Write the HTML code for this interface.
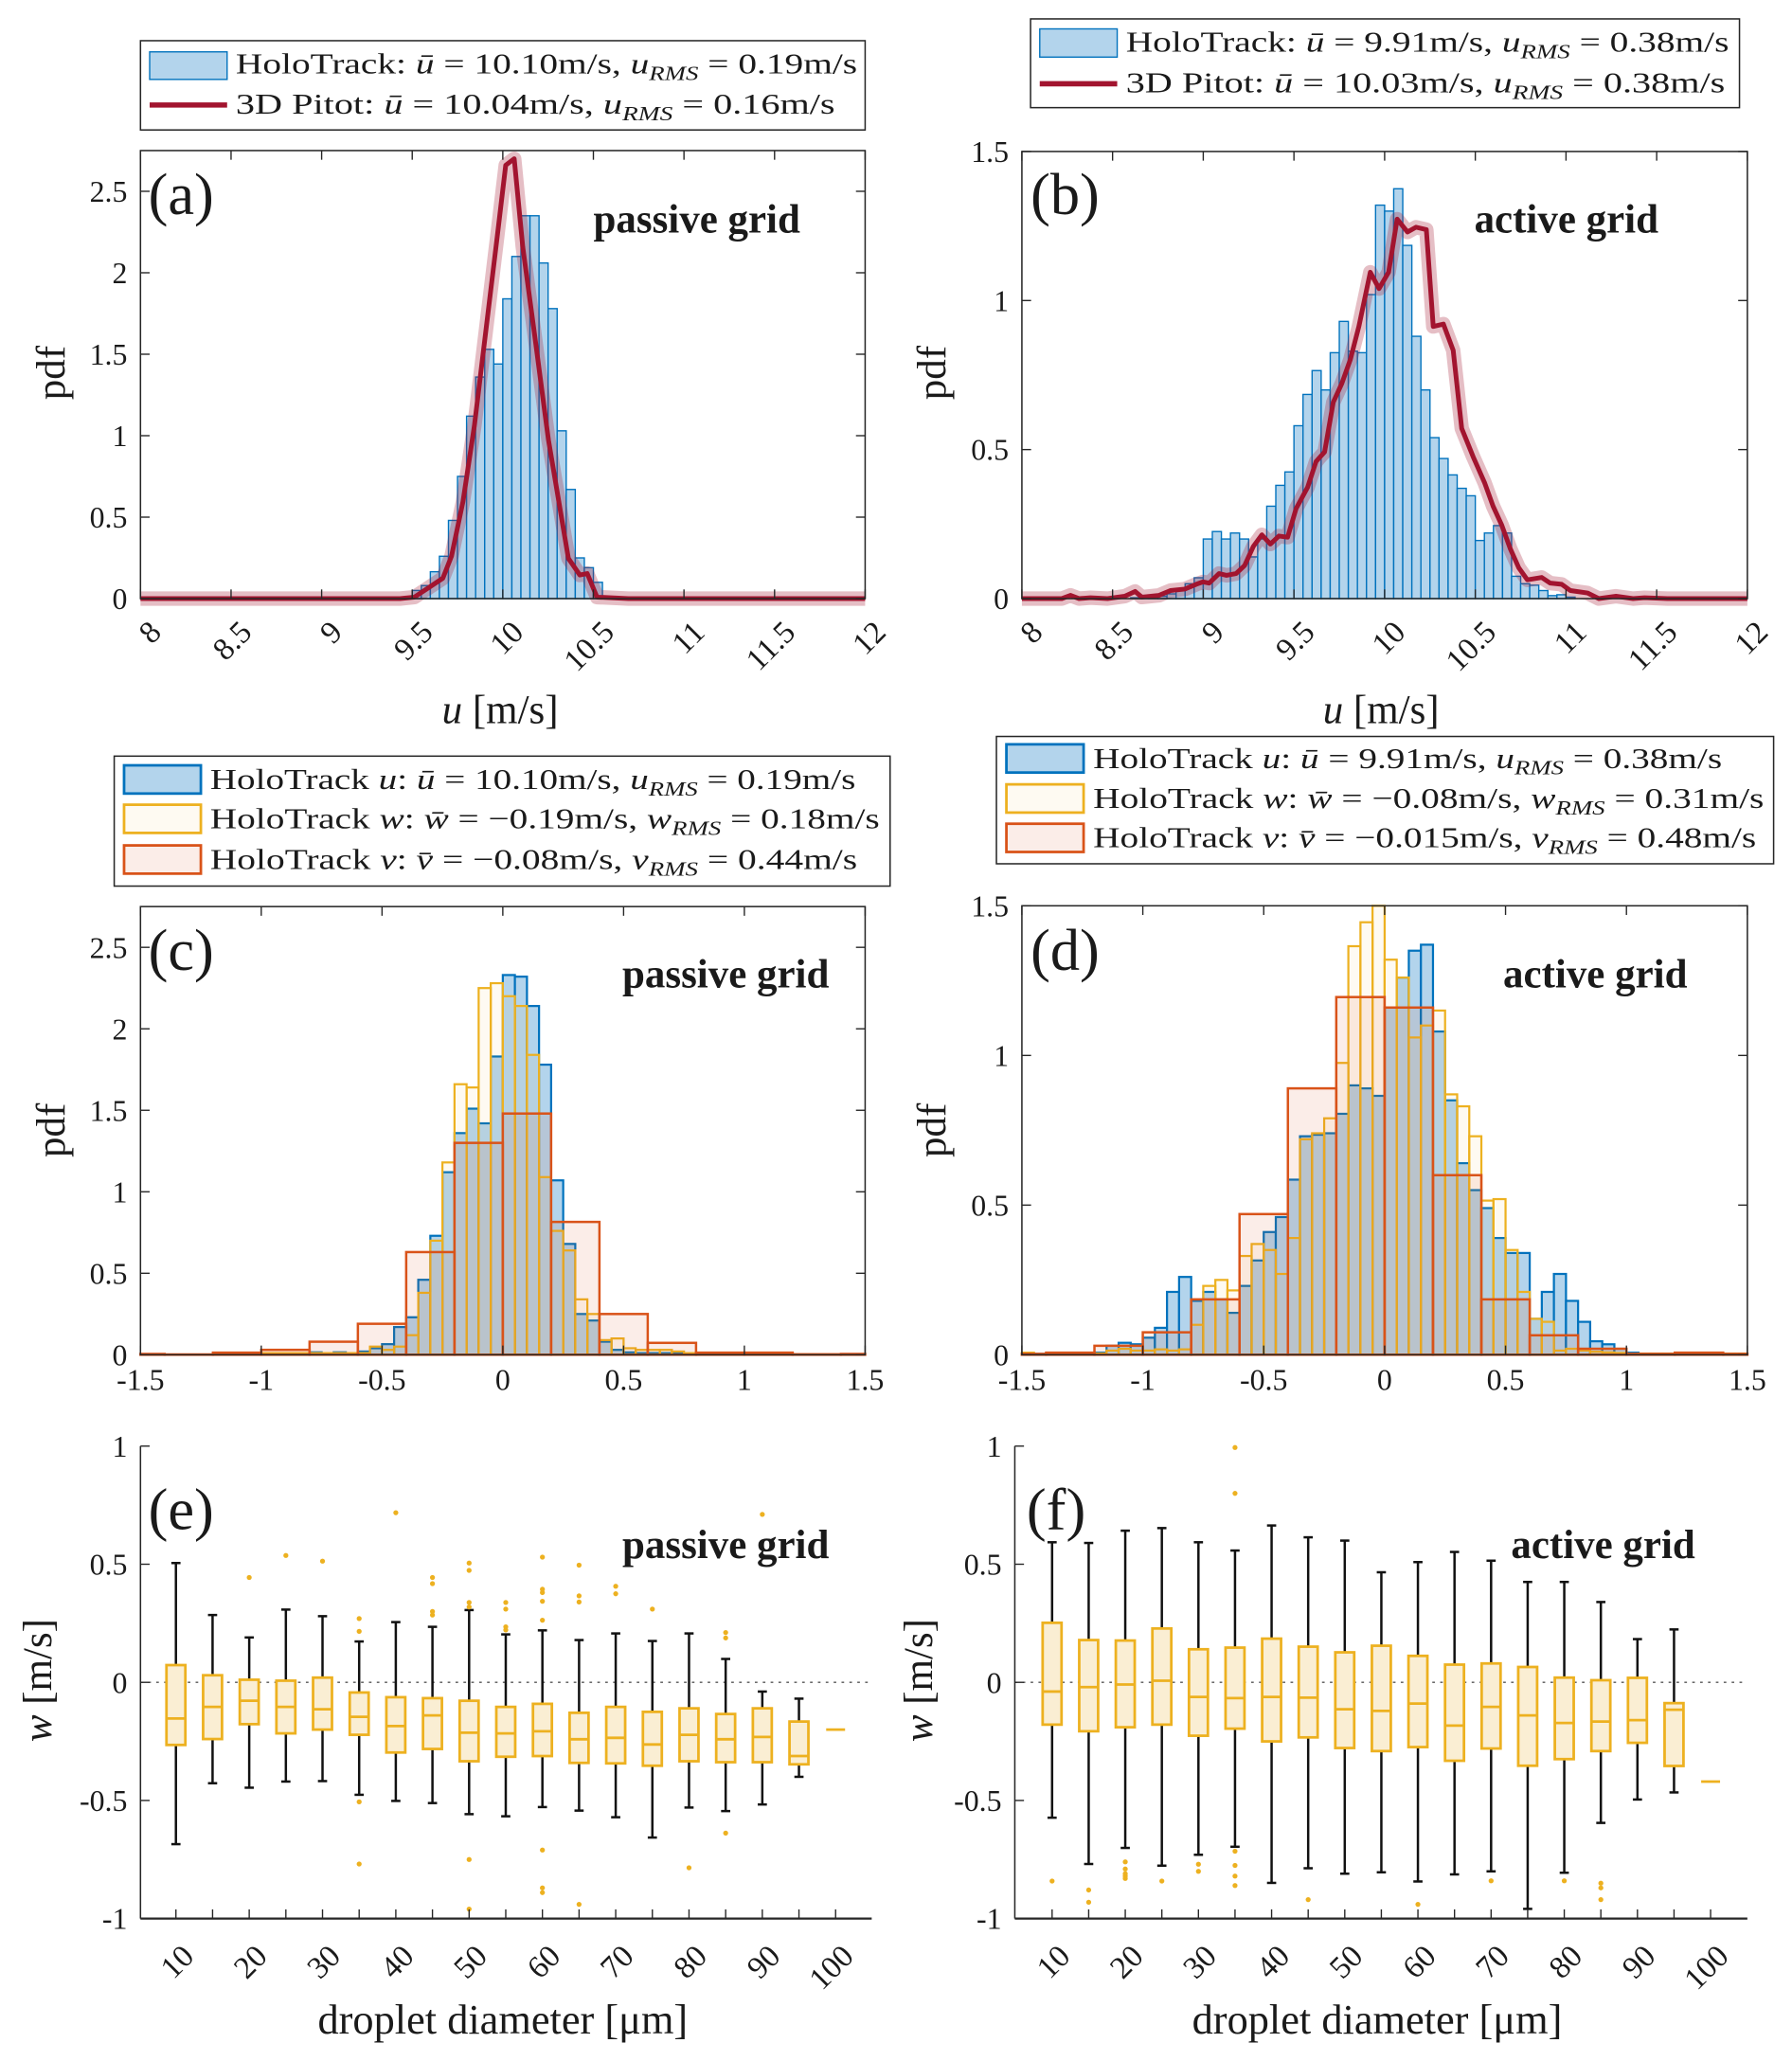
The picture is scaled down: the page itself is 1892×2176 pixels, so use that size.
<!DOCTYPE html>
<html><head><meta charset="utf-8"><title>Velocity pdfs and droplet w boxplots</title>
<style>
html,body{margin:0;padding:0;background:#fff;}
svg{display:block;}
text{font-family:"Liberation Serif",serif;fill:#1a1a1a;}
</style></head>
<body>
<svg id="fig" xmlns="http://www.w3.org/2000/svg" width="1892" height="2176" viewBox="0 0 1365 1570" preserveAspectRatio="none"></svg>
<script>
// ---------- Panel (a) data ----------
const aHoloStart = 9.1;
const aHoloWidth = 0.05;
const aHolo = [0.005,0.005,0.005,0.005,0.005,0.005,0.008,0.01,0.05,0.08,0.165,0.26,0.48,0.75,1.12,1.36,1.53,1.44,1.84,2.1,2.35,2.35,2.06,1.78,1.03,0.67,0.25,0.19,0.1];
const aPitotU = [8,9.276,9.433,9.512,9.669,9.717,9.78,9.843,9.906,9.969,10.016,10.063,10.11,10.173,10.252,10.362,10.425,10.466,10.52,10.693,12];
const aPitotV = [0,0,0,0.009,0.125,0.261,0.595,1.06,1.64,2.22,2.66,2.7,2.16,1.64,0.973,0.247,0.145,0.154,0.009,0,0];
// ---------- Panel (b) data ----------
const bHoloStart = 8.6;
const bHoloWidth = 0.05;
const bHolo = [0.003,0.004,0.005,0.008,0.016,0.027,0.05,0.07,
 0.2,0.225,0.2,0.22,0.2,0.14,0.2,0.31,0.38,0.425,0.58,0.685,0.765,0.7,0.825,0.93,0.83,0.825,1.02,1.32,
 1.3,1.375,1.185,0.88,0.7,0.54,0.47,0.415,0.37,0.345,0.195,0.22,0.245,0.22,0.075,0.05,0.045,0.027,0.01,0.013,0.005];
const bPitotU = [8,8.22,8.268,8.315,8.378,8.472,8.567,8.624,8.661,8.756,8.819,8.898,8.961,8.998,9.033,9.087,9.128,9.181,9.228,9.276,9.323,9.37,9.417,9.465,9.512,9.575,9.622,9.669,9.717,9.764,9.811,9.858,9.921,9.969,10.022,10.069,10.126,10.173,10.23,10.268,10.324,10.378,10.425,10.488,10.551,10.598,10.646,10.693,10.74,10.787,10.866,10.913,10.976,11.024,11.118,11.181,11.276,11.37,11.433,11.559,12];
const bPitotV = [0,0,0.011,0,0.003,0,0.008,0.024,0.005,0.011,0.027,0.032,0.048,0.056,0.052,0.084,0.078,0.084,0.111,0.175,0.214,0.183,0.21,0.206,0.302,0.373,0.46,0.492,0.659,0.722,0.802,0.913,1.095,1.04,1.095,1.273,1.23,1.246,1.238,0.913,0.921,0.833,0.571,0.476,0.389,0.31,0.246,0.167,0.103,0.063,0.071,0.052,0.048,0.027,0.019,0,0.008,0,0.003,0,0];
// ---------- Panel (c) data ----------
const cUStart = -1.0, cWStart = -1.0, cVStart = -1.6;
const cUWidth = 0.05, cWWidth = 0.05, cVWidth = 0.2;
const cU = [0.01,0.01,0.01,0.01,0.015,0.01,0.015,0.01,0.02,0.04,0.065,0.17,0.23,0.46,0.73,1.12,1.36,1.51,1.42,1.83,2.33,2.32,2.14,1.78,1.07,0.68,0.25,0.21,0.08,0.03,0.015,0.01,0.01,0.01,0.01,0.01];
const cW = [0.01,0.01,0.01,0.01,0.01,0.01,0.01,0.01,0.01,0.05,0.03,0.05,0.12,0.38,0.7,1.18,1.66,1.64,2.25,2.28,2.2,2.14,1.84,1.09,0.76,0.64,0.34,0.25,0.09,0.1,0.04,0.03,0.03,0.03,0.02,0.01];
const cV = [0.005,0.002,0.013,0.03,0.08,0.19,0.63,1.3,1.48,0.815,0.25,0.073,0.013,0.013,0.003,0.005];
// ---------- Panel (d) data ----------
const dUStart = -1.5, dWStart = -1.5, dVStart = -1.6;
const dUWidth = 0.05, dWWidth = 0.05, dVWidth = 0.2;
const dU = [0.003,0.003,0.003,0.003,0.003,0.003,0.007,0.03,0.04,0.035,0.057,0.09,0.21,0.26,0.18,0.21,0.185,0.14,0.23,0.315,0.41,0.46,0.585,0.73,0.735,0.74,0.805,0.9,0.89,0.865,1.16,1.26,1.35,1.37,1.08,0.85,0.64,0.55,0.49,0.39,0.34,0.34,0.12,0.21,0.27,0.18,0.11,0.045,0.035,0.02,0.007,0.003,0.003,0.003,0.003,0.003,0.003,0.003,0.003,0.003];
const dW = [0.007,0.002,0.002,0.002,0.002,0.002,0.004,0.014,0.02,0.014,0.014,0.018,0.014,0.018,0.1,0.23,0.25,0.215,0.33,0.37,0.35,0.27,0.39,0.72,0.74,0.79,0.975,1.365,1.445,1.55,1.32,1.26,1.06,1.1,1.15,0.87,0.83,0.73,0.515,0.52,0.35,0.21,0.12,0.11,0.014,0.02,0.014,0.01,0.008,0.006,0.003,0.004,0.004,0.004,0.004,0.004,0.004,0.004,0.004,0.004];
const dV = [0.003,0.007,0.03,0.075,0.185,0.47,0.89,1.195,1.16,0.6,0.185,0.065,0.02,0.003,0.007,0.003];
// ---------- Panel (e) data ----------
const eDiam = [10,15,20,25,30,35,40,45,50,55,60,65,70,75,80,85,90,95];
const eHi  = [0.505,0.285,0.19,0.308,0.28,0.173,0.255,0.235,0.306,0.203,0.22,0.179,0.207,0.175,0.207,0.099,-0.039,-0.069];
const eQ3  = [0.073,0.03,0.011,0.007,0.02,-0.043,-0.063,-0.067,-0.078,-0.104,-0.091,-0.129,-0.104,-0.125,-0.11,-0.134,-0.11,-0.166];
const eMed = [-0.153,-0.104,-0.078,-0.104,-0.114,-0.146,-0.185,-0.14,-0.213,-0.216,-0.207,-0.241,-0.235,-0.263,-0.222,-0.241,-0.231,-0.312];
const eQ1  = [-0.265,-0.24,-0.177,-0.216,-0.2,-0.222,-0.297,-0.282,-0.334,-0.315,-0.312,-0.341,-0.343,-0.353,-0.334,-0.338,-0.338,-0.347];
const eLo  = [-0.685,-0.427,-0.446,-0.42,-0.418,-0.476,-0.502,-0.511,-0.558,-0.567,-0.528,-0.543,-0.571,-0.657,-0.53,-0.545,-0.517,-0.4];
const eOutD = [20,25,30,35,35,35,35,40,45,45,45,45,50,50,50,50,50,50,55,55,55,55,60,60,60,60,60,60,60,60,65,65,65,65,70,70,75,80,85,85,85,90];
const eOutW = [0.444,0.537,0.513,0.27,0.216,-0.506,-0.769,0.718,0.444,0.418,0.3,0.285,0.505,0.474,0.338,0.319,-0.75,-0.96,0.338,0.31,0.235,0.222,0.53,0.394,0.38,0.343,0.263,-0.71,-0.87,-0.89,0.496,0.366,0.34,-0.94,0.407,0.375,0.31,-0.785,0.211,0.188,-0.638,0.711];
const eSingleD = [100];
const eSingleW = [-0.2];
// ---------- Panel (f) data ----------
const fDiam = [10,15,20,25,30,35,40,45,50,55,60,65,70,75,80,85,90,95];
const fHi  = [0.593,0.59,0.642,0.653,0.593,0.558,0.664,0.614,0.6,0.466,0.509,0.552,0.515,0.425,0.425,0.34,0.183,0.224];
const fQ3  = [0.252,0.179,0.177,0.228,0.14,0.147,0.185,0.151,0.127,0.155,0.112,0.075,0.08,0.065,0.02,0.009,0.019,-0.088];
const fMed = [-0.039,-0.02,-0.009,0.007,-0.062,-0.067,-0.062,-0.065,-0.114,-0.121,-0.09,-0.183,-0.104,-0.14,-0.172,-0.166,-0.16,-0.116];
const fQ1  = [-0.179,-0.207,-0.19,-0.179,-0.226,-0.196,-0.25,-0.233,-0.278,-0.291,-0.274,-0.332,-0.28,-0.353,-0.325,-0.291,-0.256,-0.354];
const fLo  = [-0.573,-0.769,-0.701,-0.776,-0.73,-0.696,-0.849,-0.787,-0.81,-0.804,-0.843,-0.813,-0.8,-0.959,-0.806,-0.595,-0.496,-0.466];
const fOutD = [10,15,15,20,20,20,20,20,25,30,30,35,35,35,35,35,35,45,60,70,80,85,85,85];
const fOutW = [-0.841,-0.879,-0.931,-0.76,-0.79,-0.81,-0.82,-0.83,-0.841,-0.77,-0.8,0.994,0.8,-0.715,-0.775,-0.82,-0.86,-0.92,-0.94,-0.84,-0.84,-0.85,-0.87,-0.92];
const fSingleD = [100];
const fSingleW = [-0.42];
// ---------- Tick arrays ----------
const uTicks = [8,8.5,9,9.5,10,10.5,11,11.5,12];
const uTickLabels = ['8','8.5','9','9.5','10','10.5','11','11.5','12'];
const vTicks = [-1.5,-1,-0.5,0,0.5,1,1.5];
const vTickLabels = ['-1.5','-1','-0.5','0','0.5','1','1.5'];
const pdfTicksPassive = [0,0.5,1,1.5,2,2.5];
const pdfTickLabelsPassive = ['0','0.5','1','1.5','2','2.5'];
const pdfTicksActive = [0,0.5,1,1.5];
const pdfTickLabelsActive = ['0','0.5','1','1.5'];
const wTicks = [-1,-0.5,0,0.5,1];
const wTickLabels = ['-1','-0.5','0','0.5','1'];
const dTicks = [10,15,20,25,30,35,40,45,50,55,60,65,70,75,80,85,90,95,100];
const dTickLabels = ['10','20','30','40','50','60','70','80','90','100'];
const dTickLabelVals = [10,20,30,40,50,60,70,80,90,100];

const NS = 'http://www.w3.org/2000/svg';
const fig = document.getElementById('fig');
function mk(tag, attrs, parent){
  const e = document.createElementNS(NS, tag);
  for (const k in attrs) e.setAttribute(k, attrs[k]);
  parent.appendChild(e);
  return e;
}
const BLUE='#0072BD', BLUEF='#b3d4ec', YEL='#EDB120', RED='#D95319', PIT='#A2142F';

function scales(P){
  return {
    sx: v => P.x0 + (v - P.xmin) / (P.xmax - P.xmin) * (P.x1 - P.x0),
    sy: v => P.yb - (v - P.ymin) / (P.ymax - P.ymin) * (P.yb - P.yt)
  };
}

function drawAxes(g, P, S, xt, xl, yt, yl, opt){
  const ax = mk('g', {}, g);
  
  
  if (opt.box){
    const r = mk('rect', {x:P.x0, y:P.yt, width:P.x1-P.x0, height:P.yb-P.yt, fill:'none', stroke:'#262626', 'stroke-width':1.1}, ax);
    
    
  } else {
    const l1 = mk('line', {x1:P.x0, y1:P.yt, x2:P.x0, y2:P.yb, stroke:'#262626','stroke-width':1.1}, ax);
    
    
    const l2 = mk('line', {x1:P.x0, y1:P.yb, x2:P.x1, y2:P.yb, stroke:'#262626','stroke-width':1.6}, ax);
    
    
  }
  const T = 7;
  xt.forEach(v => {
    const x = S.sx(v);
    mk('line', {x1:x, y1:P.yb, x2:x, y2:P.yb-T, stroke:'#262626','stroke-width':1}, ax);
    if (opt.box) mk('line', {x1:x, y1:P.yt, x2:x, y2:P.yt+T, stroke:'#262626','stroke-width':1}, ax);
  });
  yt.forEach(v => {
    const y = S.sy(v);
    mk('line', {x1:P.x0, y1:y, x2:P.x0+T, y2:y, stroke:'#262626','stroke-width':1}, ax);
    if (opt.box) mk('line', {x1:P.x1, y1:y, x2:P.x1-T, y2:y, stroke:'#262626','stroke-width':1}, ax);
    const t = mk('text', {x:P.x0-10, y:y+8, 'text-anchor':'end', 'font-size':23}, ax);
    t.textContent = yl[yt.indexOf(v)];
    
    
  });
  const xlv = opt.xlabelVals || xt;
  xlv.forEach((v,i) => {
    const x = S.sx(v);
    let t;
    if (opt.rot){
      t = mk('text', {'text-anchor':'end','font-size':24, transform:`translate(${x+opt.rot[0]},${P.yb+opt.rot[1]}) rotate(-45)`}, ax);
    } else {
      t = mk('text', {x:x, y:P.yb+27, 'text-anchor':'middle','font-size':23}, ax);
    }
    t.textContent = xl[i];
    
    
  });
}

function drawHist(g, P, S, start, w, vals, stroke, fill, fop, sw, name){
  const hg = mk('g', {}, g);
  
  
  vals.forEach((v,i) => {
    let a = start + i*w, b = a + w;
    if (b <= P.xmin || a >= P.xmax || v <= 0) return;
    a = Math.max(a, P.xmin); b = Math.min(b, P.xmax);
    const top = S.sy(Math.min(v, P.ymax));
    const r = mk('rect', {x:S.sx(a), y:top, width:S.sx(b)-S.sx(a), height:P.yb-top, fill:fill, 'fill-opacity':fop, stroke:stroke, 'stroke-width':sw}, hg);
    
    
  });
}

function drawPitot(g, S, us, vs){
  const d = us.map((u,i) => (i?'L':'M') + S.sx(u).toFixed(2) + ',' + S.sy(vs[i]).toFixed(2)).join(' ');
  const halo = mk('path', {d:d, fill:'none', stroke:PIT, 'stroke-opacity':0.28, 'stroke-width':11, 'stroke-linejoin':'round'}, g);
  
  
  const ln = mk('path', {d:d, fill:'none', stroke:PIT, 'stroke-width':3.6, 'stroke-linejoin':'round'}, g);
  
  
}

function addText(g, x, y, str, attrs, name){
  const t = mk('text', Object.assign({x:x, y:y}, attrs), g);
  t.textContent = str;
  
  
  return t;
}

function legendText(g, x, y, endX, parts){
  const t = mk('text', {x:x, y:y, 'font-size':22, textLength:endX-x, lengthAdjust:'spacingAndGlyphs'}, g);
  
  
  let sub = false;
  parts.forEach(p => {
    const ts = mk('tspan', {}, t);
    if (p[1] === 'i') ts.setAttribute('font-style', 'italic');
    if (p[1] === 's'){ ts.setAttribute('font-style','italic'); ts.setAttribute('font-size','15'); ts.setAttribute('dy','5'); sub = true; }
    else if (sub){ ts.setAttribute('dy','-5'); sub = false; }
    ts.textContent = p[0];
  });
}

function legendBox(g, x, y, w, h){
  const r = mk('rect', {x:x, y:y, width:w, height:h, fill:'#fff', stroke:'#262626', 'stroke-width':1.1}, g);
  
  
}
function legendPatch(g, x, y, w, h, stroke, fill, fop, sw){
  const r = mk('rect', {x:x, y:y, width:w, height:h, fill:fill, 'fill-opacity':fop, stroke:stroke, 'stroke-width':sw}, g);
  
  
}

const M = '\u0304';

// ================= Panel (a) =================
{
  const g = mk('g', {}, fig);
  
  
  const P = {x0:107, x1:659, yt:114.7, yb:456, xmin:8, xmax:12, ymin:0, ymax:2.75};
  const S = scales(P);
  drawHist(g, P, S, aHoloStart, aHoloWidth, aHolo, BLUE, BLUEF, 1, 1, 'holotrack-histogram');
  drawPitot(g, S, aPitotU, aPitotV);
  drawAxes(g, P, S, uTicks, uTickLabels, pdfTicksPassive, pdfTickLabelsPassive, {box:true, rot:[17,27]});
  addText(g, 0, 0, 'pdf', {'font-size':31, transform:'translate(49,284) rotate(-90)', 'text-anchor':'middle'}, 'y-axis-title');
  const xl = addText(g, 381, 551, '', {'font-size':31, 'text-anchor':'middle'}, 'x-axis-title');
  xl.innerHTML = '<tspan font-style="italic">u</tspan> [m/s]';
  addText(g, 113, 163, '(a)', {'font-size':45}, 'panel-letter');
  addText(g, 452, 177, 'passive grid', {'font-size':31, 'font-weight':'bold'}, 'annotation');
  const lg = mk('g', {}, g);
  
  
  legendBox(lg, 107, 31, 552, 68);
  legendPatch(lg, 114, 39.5, 59, 21, BLUE, BLUEF, 1, 1);
  legendText(lg, 179.6, 56, 653, [['HoloTrack: ','n'],['u'+M,'i'],[' = 10.10m/s, ','n'],['u','i'],['RMS','s'],[' = 0.19m/s','n']]);
  const ll = mk('line', {x1:114, y1:80, x2:173, y2:80, stroke:PIT, 'stroke-width':4}, lg);
  
  
  legendText(lg, 179.6, 86.5, 636, [['3D Pitot: ','n'],['u'+M,'i'],[' = 10.04m/s, ','n'],['u','i'],['RMS','s'],[' = 0.16m/s','n']]);
}
// ================= Panel (b) =================
{
  const g = mk('g', {}, fig);
  
  
  const P = {x0:778.4, x1:1331, yt:115.4, yb:456, xmin:8, xmax:12, ymin:0, ymax:1.5};
  const S = scales(P);
  drawHist(g, P, S, bHoloStart, bHoloWidth, bHolo, BLUE, BLUEF, 1, 1, 'holotrack-histogram');
  drawPitot(g, S, bPitotU, bPitotV);
  drawAxes(g, P, S, uTicks, uTickLabels, pdfTicksActive, pdfTickLabelsActive, {box:true, rot:[17,27]});
  addText(g, 0, 0, 'pdf', {'font-size':31, transform:'translate(720,284) rotate(-90)', 'text-anchor':'middle'}, 'y-axis-title');
  const xl = addText(g, 1052, 551, '', {'font-size':31, 'text-anchor':'middle'}, 'x-axis-title');
  xl.innerHTML = '<tspan font-style="italic">u</tspan> [m/s]';
  addText(g, 785, 163, '(b)', {'font-size':45}, 'panel-letter');
  addText(g, 1123, 177, 'active grid', {'font-size':31, 'font-weight':'bold'}, 'annotation');
  const lg = mk('g', {}, g);
  
  
  legendBox(lg, 785, 14.4, 540, 67.6);
  legendPatch(lg, 792, 22, 59, 21.5, BLUE, BLUEF, 1, 1);
  legendText(lg, 857.6, 39.5, 1317, [['HoloTrack: ','n'],['u'+M,'i'],[' = 9.91m/s, ','n'],['u','i'],['RMS','s'],[' = 0.38m/s','n']]);
  const ll = mk('line', {x1:792, y1:63.8, x2:851, y2:63.8, stroke:PIT, 'stroke-width':4}, lg);
  
  
  legendText(lg, 857.6, 70.5, 1314, [['3D Pitot: ','n'],['u'+M,'i'],[' = 10.03m/s, ','n'],['u','i'],['RMS','s'],[' = 0.38m/s','n']]);
}
// ================= Panel (c) =================
{
  const g = mk('g', {}, fig);
  
  
  const P = {x0:107, x1:659, yt:690.6, yb:1032, xmin:-1.5, xmax:1.5, ymin:0, ymax:2.75};
  const S = scales(P);
  drawHist(g, P, S, cUStart, cUWidth, cU, BLUE, BLUEF, 1, 1.6, 'holotrack-u-histogram');
  drawHist(g, P, S, cWStart, cWWidth, cW, YEL, YEL, 0.06, 1.6, 'holotrack-w-histogram');
  drawHist(g, P, S, cVStart, cVWidth, cV, RED, RED, 0.1, 1.8, 'holotrack-v-histogram');
  drawAxes(g, P, S, vTicks, vTickLabels, pdfTicksPassive, pdfTickLabelsPassive, {box:true});
  addText(g, 0, 0, 'pdf', {'font-size':31, transform:'translate(49,861) rotate(-90)', 'text-anchor':'middle'}, 'y-axis-title');
  addText(g, 113, 739, '(c)', {'font-size':45}, 'panel-letter');
  addText(g, 474, 752, 'passive grid', {'font-size':31, 'font-weight':'bold'}, 'annotation');
  const lg = mk('g', {}, g);
  
  
  legendBox(lg, 87, 576, 591, 99);
  legendPatch(lg, 94.5, 583, 58.5, 21.5, BLUE, BLUEF, 1, 2);
  legendText(lg, 160, 601, 651.7, [['HoloTrack ','n'],['u','i'],[': ','n'],['u'+M,'i'],[' = 10.10m/s, ','n'],['u','i'],['RMS','s'],[' = 0.19m/s','n']]);
  legendPatch(lg, 94.5, 613, 58.5, 21.5, YEL, YEL, 0.06, 2);
  legendText(lg, 160, 631, 670, [['HoloTrack ','n'],['w','i'],[': ','n'],['w'+M,'i'],[' = \u22120.19m/s, ','n'],['w','i'],['RMS','s'],[' = 0.18m/s','n']]);
  legendPatch(lg, 94.5, 644, 58.5, 21.5, RED, RED, 0.1, 2);
  legendText(lg, 160, 662, 653, [['HoloTrack ','n'],['v','i'],[': ','n'],['v'+M,'i'],[' = \u22120.08m/s, ','n'],['v','i'],['RMS','s'],[' = 0.44m/s','n']]);
}
// ================= Panel (d) =================
{
  const g = mk('g', {}, fig);
  
  
  const P = {x0:778.4, x1:1331, yt:690, yb:1032, xmin:-1.5, xmax:1.5, ymin:0, ymax:1.5};
  const S = scales(P);
  drawHist(g, P, S, dUStart, dUWidth, dU, BLUE, BLUEF, 1, 1.6, 'holotrack-u-histogram');
  drawHist(g, P, S, dWStart, dWWidth, dW, YEL, YEL, 0.06, 1.6, 'holotrack-w-histogram');
  drawHist(g, P, S, dVStart, dVWidth, dV, RED, RED, 0.1, 1.8, 'holotrack-v-histogram');
  drawAxes(g, P, S, vTicks, vTickLabels, pdfTicksActive, pdfTickLabelsActive, {box:true});
  addText(g, 0, 0, 'pdf', {'font-size':31, transform:'translate(720,861) rotate(-90)', 'text-anchor':'middle'}, 'y-axis-title');
  addText(g, 785, 739, '(d)', {'font-size':45}, 'panel-letter');
  addText(g, 1145, 752, 'active grid', {'font-size':31, 'font-weight':'bold'}, 'annotation');
  const lg = mk('g', {}, g);
  
  
  legendBox(lg, 759, 561, 592, 97);
  legendPatch(lg, 766.6, 567, 58.8, 21.5, BLUE, BLUEF, 1, 2);
  legendText(lg, 832.7, 585, 1311.7, [['HoloTrack ','n'],['u','i'],[': ','n'],['u'+M,'i'],[' = 9.91m/s, ','n'],['u','i'],['RMS','s'],[' = 0.38m/s','n']]);
  legendPatch(lg, 766.6, 597.5, 58.8, 21.5, YEL, YEL, 0.06, 2);
  legendText(lg, 832.7, 615.5, 1343.6, [['HoloTrack ','n'],['w','i'],[': ','n'],['w'+M,'i'],[' = \u22120.08m/s, ','n'],['w','i'],['RMS','s'],[' = 0.31m/s','n']]);
  legendPatch(lg, 766.6, 627.5, 58.8, 21.5, RED, RED, 0.1, 2);
  legendText(lg, 832.7, 645.5, 1337.7, [['HoloTrack ','n'],['v','i'],[': ','n'],['v'+M,'i'],[' = \u22120.015m/s, ','n'],['v','i'],['RMS','s'],[' = 0.48m/s','n']]);
}
// ================= Box panels =================
function boxPanel(name, P, D, Hi, Q3, Med, Q1, Lo, OD, OW, SD, SW, letter, lx, annot, ax, ylx){
  const g = mk('g', {}, fig);
  
  
  const S = scales(P);
  const z = mk('line', {x1:P.x0, y1:S.sy(0), x2:P.x1, y2:S.sy(0), stroke:'#555', 'stroke-width':1, 'stroke-dasharray':'2,4'}, g);
  
  
  const hw = 7.2, cw = 3.5;
  D.forEach((d,i) => {
    const bg = mk('g', {}, g);
    
    
    const x = S.sx(d);
    mk('line', {x1:x, y1:S.sy(Hi[i]), x2:x, y2:S.sy(Q3[i]), stroke:'#111','stroke-width':1.8}, bg);
    mk('line', {x1:x, y1:S.sy(Q1[i]), x2:x, y2:S.sy(Lo[i]), stroke:'#111','stroke-width':1.8}, bg);
    mk('line', {x1:x-cw, y1:S.sy(Hi[i]), x2:x+cw, y2:S.sy(Hi[i]), stroke:'#111','stroke-width':1.8}, bg);
    mk('line', {x1:x-cw, y1:S.sy(Lo[i]), x2:x+cw, y2:S.sy(Lo[i]), stroke:'#111','stroke-width':1.8}, bg);
    mk('rect', {x:x-hw, y:S.sy(Q3[i]), width:2*hw, height:S.sy(Q1[i])-S.sy(Q3[i]), fill:'#faeed3', stroke:YEL, 'stroke-width':2}, bg);
    mk('line', {x1:x-hw, y1:S.sy(Med[i]), x2:x+hw, y2:S.sy(Med[i]), stroke:YEL,'stroke-width':2}, bg);
  });
  SD.forEach((d,i) => {
    const s = mk('line', {x1:S.sx(d)-hw, y1:S.sy(SW[i]), x2:S.sx(d)+hw, y2:S.sy(SW[i]), stroke:YEL,'stroke-width':2}, g);
    
    
  });
  OD.forEach((d,i) => {
    const c = mk('circle', {cx:S.sx(d), cy:S.sy(OW[i]), r:1.9, fill:YEL}, g);
    
    
  });
  drawAxes(g, P, S, dTicks, dTickLabels, wTicks, wTickLabels, {box:false, rot:[15,30], xlabelVals:dTickLabelVals});
  const yl = addText(g, 0, 0, '', {'font-size':31, transform:`translate(${ylx},1280) rotate(-90)`, 'text-anchor':'middle'}, 'y-axis-title');
  yl.innerHTML = '<tspan font-style="italic">w</tspan> [m/s]';
  addText(g, ax, 1549, 'droplet diameter [\u03bcm]', {'font-size':32, 'text-anchor':'middle'}, 'x-axis-title');
  addText(g, lx, 1165, letter, {'font-size':45}, 'panel-letter');
  addText(g, annot[0], 1187, annot[1], {'font-size':31, 'font-weight':'bold'}, 'annotation');
}
{
  const s = (p10, p100) => (p100 - p10) / 90;
  const kE = s(134, 636.5), kF = s(801.4, 1303);
  boxPanel('panel-e', {x0:107, x1:664, yt:1101.6, yb:1461.5, xmin:10-(134-107)/kE, xmax:10+(664-134)/kE, ymin:-1, ymax:1},
    eDiam, eHi, eQ3, eMed, eQ1, eLo, eOutD, eOutW, eSingleD, eSingleW, '(e)', 113, [474,'passive grid'], 383, 39);
  boxPanel('panel-f', {x0:773, x1:1331, yt:1101.6, yb:1461.5, xmin:10-(801.4-773)/kF, xmax:10+(1331-801.4)/kF, ymin:-1, ymax:1},
    fDiam, fHi, fQ3, fMed, fQ1, fLo, fOutD, fOutW, fSingleD, fSingleW, '(f)', 782, [1151,'active grid'], 1049, 710);
}
</script>
</body></html>
